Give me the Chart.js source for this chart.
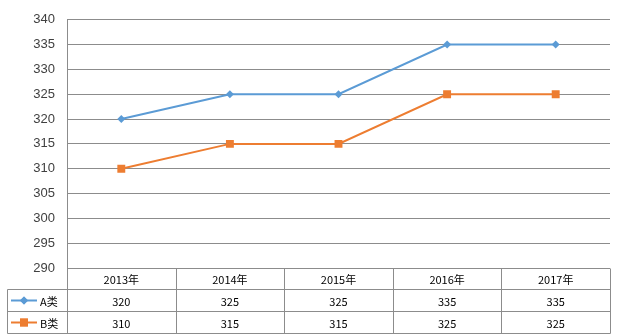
<!DOCTYPE html>
<html>
<head>
<meta charset="utf-8">
<script src="https://cdn.jsdelivr.net/npm/chart.js@4/dist/chart.umd.min.js"></script>
<style>
html,body{margin:0;padding:0;background:#fff;}
#wrap{width:619px;height:336px;position:relative;}
</style>
</head>
<body>
<div id="wrap"><canvas id="c" width="619" height="336"></canvas></div>
<script>
const categories = ['2013年', '2014年', '2015年', '2016年', '2017年'];
const seriesA = [320, 325, 325, 335, 335];
const seriesB = [310, 315, 315, 325, 325];
const seriesNames = ['A类', 'B类'];
const yTicks = [290, 295, 300, 305, 310, 315, 320, 325, 330, 335, 340];

const gridColor = '#8c8c8c';
const colA = '#5B9BD5';
const colB = '#ED7D31';

const tablePlugin = {
  id: 'dataTable',
  afterDraw(chart) {
    const ctx = chart.ctx;
    const area = chart.chartArea;
    const xs = chart.scales.x;
    const L = area.left, R = area.right, T = area.bottom;
    const legendLeft = 7.5;
    const n = categories.length;
    const colW = (R - L) / n;
    const top = Math.round(T) + 0.5;
    const y1 = Math.round(T + 21) + 0.5;
    const y2 = Math.round(T + 43) + 0.5;
    const y3 = Math.round(T + 65) + 0.5;
    ctx.save();
    ctx.strokeStyle = gridColor;
    ctx.lineWidth = 1;
    ctx.beginPath();
    [y1, y2, y3].forEach(y => { ctx.moveTo(legendLeft, y); ctx.lineTo(Math.round(R) + 0.5, y); });
    ctx.moveTo(legendLeft, y1); ctx.lineTo(legendLeft, y3);
    for (let i = 1; i <= n; i++) {
      const x = Math.round(L + i * colW) + 0.5;
      ctx.moveTo(x, top); ctx.lineTo(x, y3);
    }
    ctx.moveTo(Math.round(L) + 0.5, top); ctx.lineTo(Math.round(L) + 0.5, y3);
    ctx.stroke();

    ctx.fillStyle = '#000';
    ctx.font = '11px "Noto Sans CJK SC", "Liberation Sans", sans-serif';
    ctx.textAlign = 'center';
    ctx.textBaseline = 'middle';
    for (let i = 0; i < n; i++) {
      const cx = xs.getPixelForValue(i);
      ctx.fillText(categories[i], cx, (top + y1) / 2 + 1);
      ctx.fillText(String(seriesA[i]), cx, (y1 + y2) / 2 + 1);
      ctx.fillText(String(seriesB[i]), cx, (y2 + y3) / 2 + 1);
    }
    const rows = [[(y1 + y2) / 2, colA, 'rectRot', 4, seriesNames[0]], [(y2 + y3) / 2, colB, 'rect', 5.6, seriesNames[1]]];
    rows.forEach(([cy, col, style, r, name]) => {
      ctx.strokeStyle = col;
      ctx.lineWidth = 2;
      ctx.beginPath();
      ctx.moveTo(11, cy); ctx.lineTo(37, cy);
      ctx.stroke();
      ctx.fillStyle = col;
      Chart.helpers.drawPoint(ctx, {pointStyle: style, radius: r, borderWidth: 0}, 24, cy);
      ctx.fill();
      ctx.fillStyle = '#000';
      ctx.textAlign = 'left';
      ctx.fillText(name, 40, cy + 1);
    });
    ctx.restore();
  }
};

new Chart(document.getElementById('c'), {
  type: 'line',
  data: {
    labels: categories,
    datasets: [
      {label: seriesNames[0], data: seriesA, borderColor: colA, backgroundColor: colA, borderWidth: 2,
       pointStyle: 'rectRot', pointRadius: 4, pointBorderWidth: 0, tension: 0},
      {label: seriesNames[1], data: seriesB, borderColor: colB, backgroundColor: colB, borderWidth: 2,
       pointStyle: 'rect', pointRadius: 5.6, pointBorderWidth: 0, tension: 0}
    ]
  },
  options: {
    responsive: false,
    animation: false,
    events: [],
    layout: {padding: {top: 18, right: 9, bottom: 68, left: 0}},
    plugins: {legend: {display: false}, tooltip: {enabled: false}},
    scales: {
      x: {
        type: 'category',
        offset: true,
        display: true,
        ticks: {display: false},
        grid: {display: false, drawTicks: false},
        border: {display: false}
      },
      y: {
        min: 290, max: 340,
        afterFit(s) { s.width = 67; },
        afterBuildTicks(s) { s.ticks = yTicks.map(v => ({value: v})); },
        ticks: {padding: 12, color: '#404040', font: {size: 13, family: '"Liberation Sans", "DejaVu Sans", sans-serif'}},
        grid: {color: gridColor, lineWidth: 1, drawTicks: false},
        border: {display: true, color: gridColor, width: 1}
      }
    }
  },
  plugins: [tablePlugin]
});
</script>
</body>
</html>
